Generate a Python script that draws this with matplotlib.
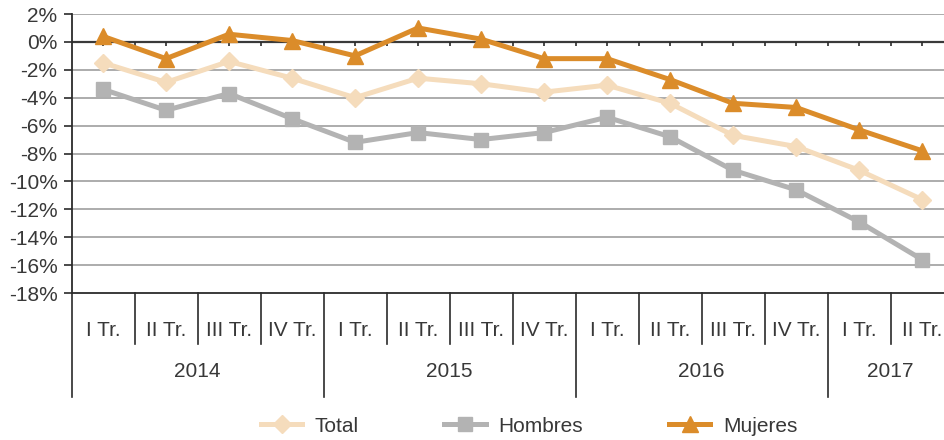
import numpy as np
import matplotlib
matplotlib.use('Agg')
import matplotlib.pyplot as plt
import matplotlib.transforms as mtransforms

plt.rcParams['font.family'] = ['Liberation Sans', 'DejaVu Sans']

# datos (variacion interanual, %)
quarters = ['I Tr.', 'II Tr.', 'III Tr.', 'IV Tr.'] * 3 + ['I Tr.', 'II Tr.']
years = ['2014', '2015', '2016', '2017']
year_len = [4, 4, 4, 2]
total = [-1.5, -2.9, -1.4, -2.6, -4.0, -2.6, -3.0, -3.6, -3.1, -4.4, -6.7, -7.5, -9.2, -11.3]
hombres = [-3.4, -4.9, -3.7, -5.5, -7.2, -6.5, -7.0, -6.5, -5.4, -6.8, -9.2, -10.6, -12.9, -15.6]
mujeres = [0.4, -1.2, 0.55, 0.1, -1.0, 1.0, 0.2, -1.2, -1.2, -2.7, -4.4, -4.7, -6.3, -7.8]

c_total = '#f5dcbc'
c_hom = '#b3b3b3'
c_muj = '#db8c2a'
txt = '#383838'
dark = '#2b2b2b'

fig = plt.figure(figsize=(9.44, 4.4), dpi=100)
# el eje sigue un poco mas alla del borde derecho, como en el original
ax = fig.add_axes([71.5/944, 147/440, 882/944, 279/440])

x = np.arange(len(quarters)) + 0.5
ax.plot(x, hombres, color=c_hom, lw=3.6, marker='s', ms=10, label='Hombres', zorder=3)
ax.plot(x, total, color=c_total, lw=3.6, marker='D', ms=9.5, label='Total', zorder=4)
ax.plot(x, mujeres, color=c_muj, lw=3.6, marker='^', ms=12, label='Mujeres', zorder=5)

ax.set_xlim(0, len(quarters))
ax.set_ylim(-18, 2)
yt = np.arange(-18, 3, 2)
ax.set_yticks(yt)
ax.set_yticklabels([f'{v}%' for v in yt], fontsize=15, color=txt)
ax.tick_params(axis='y', length=6, width=1.2, color=dark, pad=4)
ax.set_xticks([])
for v in yt:
    if v == 0:
        ax.axhline(v, color='#3a3a3a', lw=1.6, zorder=2)
    elif v != -18:
        ax.axhline(v, color='#a6a6a6', lw=1.3, zorder=1)

for s in ['top', 'right']:
    ax.spines[s].set_visible(False)
for s in ['left', 'bottom']:
    ax.spines[s].set_color(dark)
    ax.spines[s].set_linewidth(1.3)

# marcas sobre la linea del 0% (cada medio trimestre)
marks = np.arange(1, 2 * len(quarters)) / 2
ax.vlines(marks, 0, -0.32, color=dark, lw=1.2, zorder=2)

# ejes de categorias (trimestres y años)
tr = mtransforms.blended_transform_factory(ax.transData, ax.transAxes)
year_starts = np.concatenate([[0], np.cumsum(year_len)])
for b in range(len(quarters) + 1):
    low = -0.373 if b in year_starts else -0.183
    ax.plot([b, b], [0, low], color=dark, lw=1.2, transform=tr, clip_on=False)
for i, q in enumerate(quarters):
    ax.text(i + 0.5, -0.133, q, transform=tr, ha='center', va='center',
            fontsize=15, color=txt)
for i, y in enumerate(years):
    mid = (year_starts[i] + year_starts[i + 1]) / 2
    ax.text(mid, -0.28, y, transform=tr, ha='center', va='center',
            fontsize=15, color=txt)

h, l = ax.get_legend_handles_labels()
order = [1, 0, 2]
fig.legend([h[i] for i in order], [l[i] for i in order], loc='center',
           bbox_to_anchor=(529/944, 1 - 426/440), ncol=3, frameon=False,
           fontsize=15, handlelength=2.0, handletextpad=0.6, columnspacing=4.1,
           labelcolor=txt)

fig.savefig('out.png', dpi=100)
